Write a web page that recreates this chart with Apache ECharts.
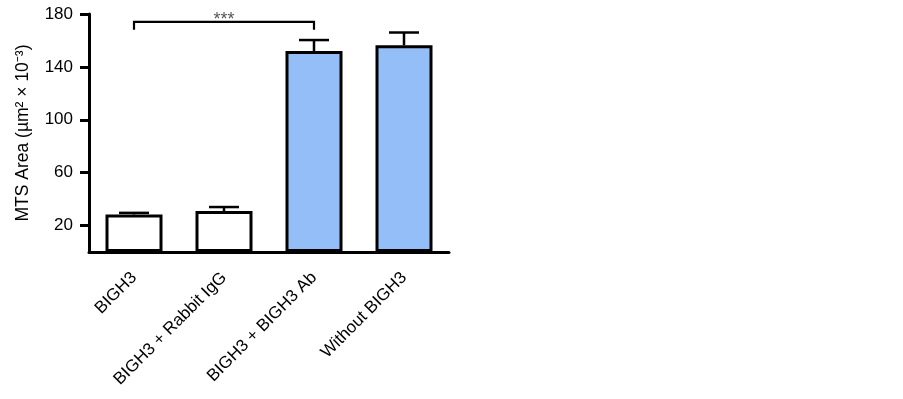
<!DOCTYPE html>
<html>
<head>
<meta charset="utf-8">
<script src="https://cdn.jsdelivr.net/npm/echarts@6/dist/echarts.min.js"></script>
<style>
html,body{margin:0;padding:0;background:#fff;}
#chart{width:903px;height:399px;}
</style>
</head>
<body>
<div id="chart"></div>
<script>
const categories = ['BIGH3', 'BIGH3 + Rabbit IgG', 'BIGH3 + BIGH3 Ab', 'Without BIGH3'];
const means = [28.4, 31, 152, 156.3];
const errors = [1.2, 3, 8.3, 9.7];
const barColors = ['#ffffff', '#ffffff', '#93bef7', '#93bef7'];
const yTicks = [20, 60, 100, 140, 180];
const bracket = [0, 2, 174, 168]; // from category, to category, top value, end value
const sigLabel = '***';

const chart = echarts.init(document.getElementById('chart'));
const font = '"Liberation Sans", Arial, sans-serif';

chart.setOption({
  animation: false,
  grid: { left: 89, top: 14, width: 360, height: 238, containLabel: false },
  xAxis: {
    type: 'category',
    data: categories,
    axisLine: { lineStyle: { color: '#000', width: 3 } },
    axisTick: { alignWithLabel: true, length: 6, lineStyle: { color: '#000', width: 3 } },
    axisLabel: { interval: 0, rotate: 45, fontSize: 17, color: '#000', fontFamily: font, margin: 23 }
  },
  yAxis: {
    type: 'value',
    min: 0, max: 180,
    name: 'MTS Area (µm² × 10⁻³)',
    nameLocation: 'middle',
    nameGap: 57,
    nameTextStyle: { fontSize: 17.5, color: '#000', fontFamily: font },
    splitLine: { show: false },
    axisLine: { show: true, lineStyle: { color: '#000', width: 3 } },
    axisTick: { show: true, length: 9, customValues: yTicks, lineStyle: { color: '#000', width: 3 } },
    axisLabel: { customValues: yTicks, fontSize: 17, color: '#000', fontFamily: font, margin: 16 }
  },
  series: [
    {
      type: 'bar',
      barWidth: 57,
      data: means.map((v, i) => ({ value: v, itemStyle: { color: barColors[i] } })),
      itemStyle: { borderColor: '#000', borderWidth: 3 },
      z: 2
    },
    {
      type: 'custom',
      data: means.map((v, i) => [i, v, v + errors[i]]),
      renderItem: function (params, api) {
        const base = api.coord([api.value(0), api.value(1)]);
        const top = api.coord([api.value(0), api.value(2)]);
        const hw = 15;
        return {
          type: 'group',
          children: [
            { type: 'line', shape: { x1: base[0], y1: base[1], x2: top[0], y2: top[1] }, style: { stroke: '#000', lineWidth: 2.5 } },
            { type: 'line', shape: { x1: top[0] - hw, y1: top[1], x2: top[0] + hw, y2: top[1] }, style: { stroke: '#000', lineWidth: 2.5 } }
          ]
        };
      },
      z: 1
    },
    {
      type: 'custom',
      data: [bracket],
      renderItem: function (params, api) {
        const a = api.coord([api.value(0), api.value(2)]);
        const b = api.coord([api.value(1), api.value(2)]);
        const ae = api.coord([api.value(0), api.value(3)]);
        const be = api.coord([api.value(1), api.value(3)]);
        return {
          type: 'group',
          children: [
            { type: 'polyline', shape: { points: [[ae[0], ae[1]], [a[0], a[1]], [b[0], b[1]], [be[0], be[1]]] }, style: { stroke: '#000', lineWidth: 2.2, fill: null } },
            { type: 'text', style: { x: (a[0] + b[0]) / 2, y: a[1] - 2, text: sigLabel, textAlign: 'center', textVerticalAlign: 'middle', fill: '#555', fontSize: 18, fontFamily: font } }
          ]
        };
      },
      z: 3
    }
  ]
});
</script>
</body>
</html>
